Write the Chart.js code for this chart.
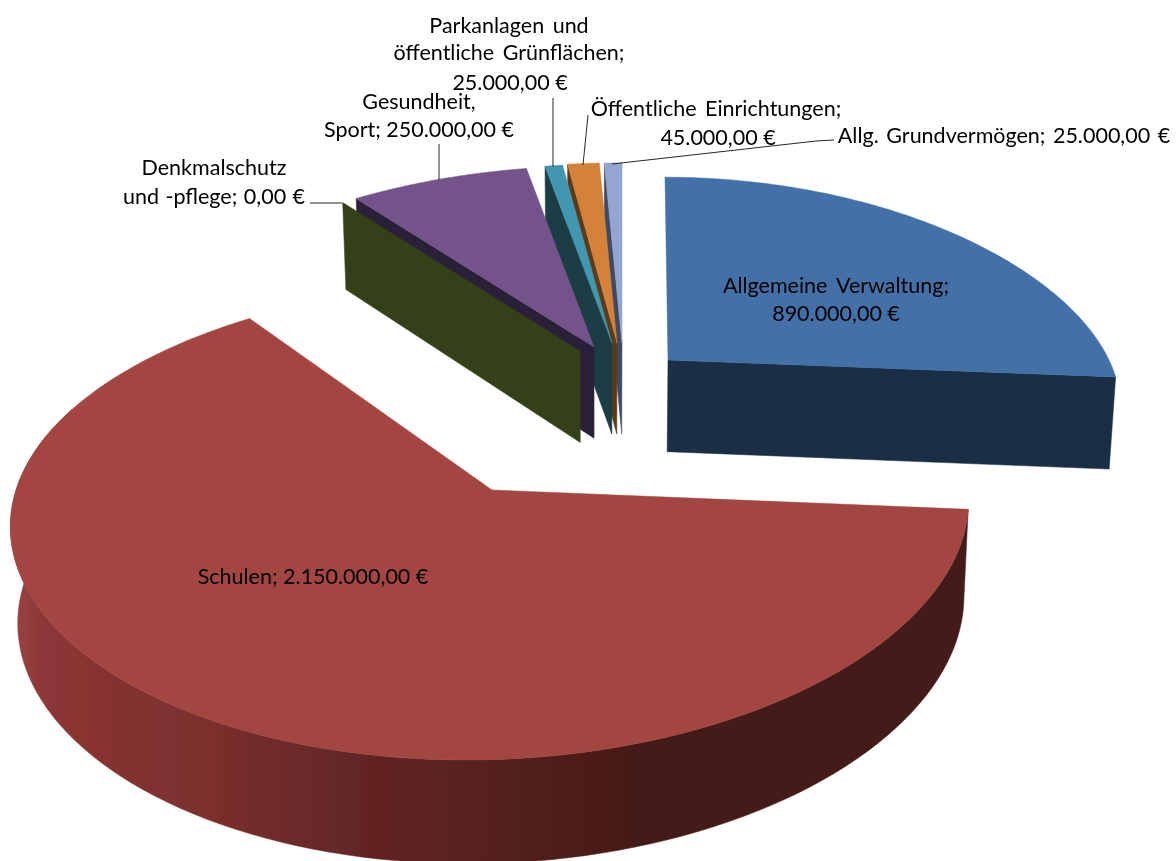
<!DOCTYPE html>
<html><head><meta charset="utf-8">
<style>html,body{margin:0;padding:0;background:#fff}canvas{display:block}</style>
<script src="https://cdn.jsdelivr.net/npm/chart.js@4"></script></head>
<body><canvas id="c" width="1176" height="861"></canvas>
<script>
const categories = ["Allgemeine Verwaltung","Schulen","Denkmalschutz und -pflege","Gesundheit, Sport","Parkanlagen und öffentliche Grünflächen","Öffentliche Einrichtungen","Allg. Grundvermögen"];
const values = [890000,2150000,0,250000,25000,45000,25000];
const topColors = ["#4371A7","#A34642","#4F6228","#74538A","#4297B0","#D4823A","#93A6CF"];
const wallColors = ["#1A2E46","#431B18","#344018","#2A2039","#1B3D45","#5C3A17","#3F4A62"];

// 3D projection of each slice: apex on the page, radii and shear of the tilted disc
const slices = [
 {x:668,y:360,A:441,B:206,C:-3,P:0.216,face:"end"},
 {x:492,y:490,A:476,B:235.7,C:26,P:0.1,face:"rim"},
 {x:580,y:351,A:466,B:204,C:0,P:0.216,face:"start"},
 {x:594,y:347,A:467,B:204,C:0,P:0.216,face:"start"},
 {x:612,y:343,A:463,B:202,C:0,P:0.216,face:"start"},
 {x:617,y:343,A:463,B:203,C:0,P:0.216,face:"start"},
 {x:622,y:343,A:463,B:203,C:0,P:0.216,face:"start"}
];
const Q=0.127;
const drawOrder=[6,5,4,3,2,0,1];
const schulenBands=[[15,"#9A4243"],[40,"#8E3839"],[55,"#8A3639"],[75,"#8B3530"],[115,"#843231"],[175,"#7D3231"],[215,"#7C2F2B"],[250,"#742B2B"],[300,"#6C2A2A"],[350,"#632729"],[375,"#63201F"],[400,"#5E2422"],[450,"#5A2222"],[500,"#552020"],[550,"#4F1E1A"],[600,"#4A1A14"],[640,"#431B18"],[970,"#431B18"]];

const fmt=v=>v.toLocaleString("de-DE",{minimumFractionDigits:2,maximumFractionDigits:2}).replace(/\u00a0/g," ")+" €";
// label lines: text, centre x, baseline y, word spacing
const labelLines=[
 ["Allgemeine Verwaltung;",836,293,3],[fmt(values[0]),836,321,0],
 ["Schulen; "+fmt(values[1]),313,584,0],
 ["Denkmalschutz",214,175,0],["und -pflege; "+fmt(values[2]),214,204,1],
 ["Gesundheit,",419,109,0],["Sport; "+fmt(values[3]),419,137,0],
 ["Parkanlagen und",509,33,3],["öffentliche Grünflächen;",509,60,3],[fmt(values[4]),510,90,0],
 ["Öffentliche Einrichtungen;",716,116,3],[fmt(values[5]),718,145,0],
 ["Allg. Grundvermögen; "+fmt(values[6]),1004,143,2]
];
const leaders=[
 [[310,203],[342,203]],
 [[439,144],[439,180]],
 [[553,98],[553,167]],
 [[588,115],[583,165]],
 [[834,140],[816,141],[612,164]]
];

function project(s,th){
  const X=Math.sin(th),Y=Math.cos(th);
  return {x:s.x+s.A*X/(1+s.P*Y)+s.C*Y,y:s.y-s.B*Y/(1+Q*Y)};
}
function lower(p){return {x:p.x+(600-p.x)*0.0125,y:p.y+92+(p.y-370)*0.03};}
function poly(ctx,pts,fill){
  ctx.beginPath();pts.forEach((p,i)=>i?ctx.lineTo(p.x,p.y):ctx.moveTo(p.x,p.y));ctx.closePath();
  ctx.fillStyle=fill;ctx.fill();ctx.strokeStyle=fill;ctx.lineWidth=0.5;ctx.stroke();
}
const pie3d={
 id:"pie3d",
 beforeDatasetDraw(chart,args){
  const ctx=chart.ctx,arcs=chart.getDatasetMeta(0).data;
  drawOrder.forEach(i=>{
    const s=slices[i],a=arcs[i];
    const t0=a.startAngle+Math.PI/2,t1=a.endAngle+Math.PI/2,n=120,rim=[];
    for(let k=0;k<=n;k++)rim.push(project(s,t0+(t1-t0)*k/n));
    const apex={x:s.x,y:s.y};
    if(s.face==="rim"){
      const g=ctx.createLinearGradient(0,0,1176,0);
      schulenBands.forEach(b=>g.addColorStop(b[0]/1176,b[1]));
      const vis=rim.filter((p,k)=>t0+(t1-t0)*k/n<Math.PI*1.62);
      poly(ctx,vis.concat(vis.map(lower).reverse()),g);
    }else{
      const e=s.face==="start"?rim[0]:rim[n];
      poly(ctx,[e,apex,lower(apex),lower(e)],wallColors[i]);
    }
    if(t1-t0>1e-6)poly(ctx,[apex].concat(rim),topColors[i]);
  });
  ctx.save();
  ctx.strokeStyle="#262626";ctx.lineWidth=1;
  leaders.forEach(l=>{ctx.beginPath();l.forEach((p,i)=>i?ctx.lineTo(p[0],p[1]):ctx.moveTo(p[0],p[1]));ctx.stroke();});
  ctx.fillStyle="#000";ctx.font="21.5px Lato";ctx.textAlign="center";ctx.textBaseline="alphabetic";
  labelLines.forEach(t=>{ctx.wordSpacing=t[3]+"px";ctx.fillText(t[0],t[1],t[2]);});
  ctx.restore();
  return false;
 }
};
new Chart(document.getElementById("c"),{
 type:"pie",
 data:{labels:categories,datasets:[{data:values,backgroundColor:topColors,borderWidth:0}]},
 options:{responsive:false,animation:false,rotation:0,plugins:{legend:{display:false},tooltip:{enabled:false}}},
 plugins:[pie3d]
});
</script></body></html>
